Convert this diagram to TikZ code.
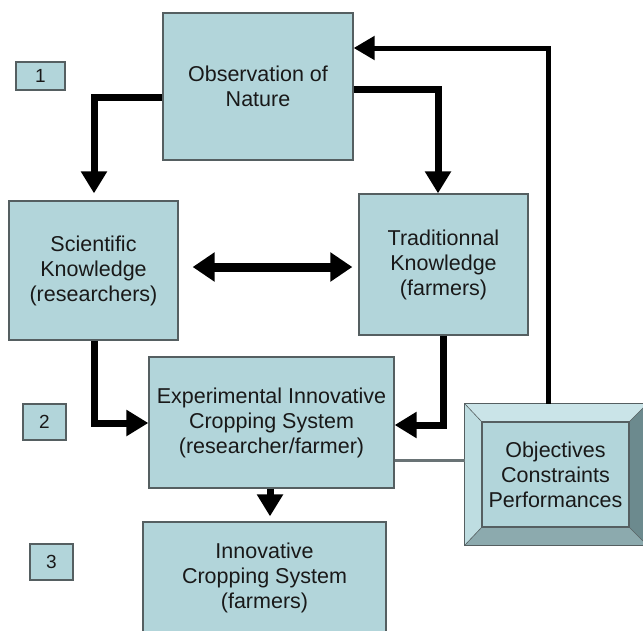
\documentclass[tikz,border=0pt]{standalone}
\usepackage{fontspec}
\setmainfont{Liberation Sans}
\usetikzlibrary{arrows.meta}
\definecolor{boxfill}{RGB}{178,213,218}
\definecolor{boxline}{RGB}{85,95,97}
\definecolor{txt}{RGB}{25,25,25}
\definecolor{bevtop}{RGB}{202,228,232}
\definecolor{bevleft}{RGB}{190,221,225}
\definecolor{bevright}{RGB}{108,138,142}
\definecolor{bevbot}{RGB}{140,170,174}
\definecolor{grayline}{RGB}{105,115,117}
\tikzset{
  mainbox/.style={draw=boxline, fill=boxfill, line width=1.3pt, inner sep=0pt,
    align=center, text=txt, font=\fontsize{21.5}{25}\selectfont},
  numbox/.style={draw=boxline, fill=boxfill, line width=1.3pt, inner sep=0pt,
    text=txt, font=\fontsize{19}{22}\selectfont},
  arr/.style={line width=7pt, draw=black, -{Triangle[length=22pt,width=25pt]}},
  fbarr/.style={line width=5pt, draw=black, -{Triangle[length=21pt,width=23pt]}},
  dblarr/.style={line width=9pt, draw=black,
    {Triangle[length=22pt,width=28pt]}-{Triangle[length=22pt,width=28pt]}},
}
\begin{document}
\begin{tikzpicture}[x=1pt,y=-1pt]
\useasboundingbox (0,0) rectangle (643,630);
\clip (0,0) rectangle (643,630);

% number boxes
\node[numbox, minimum width=49pt, minimum height=28pt] (n1) at (40.5,76) {1};
\node[numbox, minimum width=43pt, minimum height=36pt] (n2) at (44.5,422) {2};
\node[numbox, minimum width=43pt, minimum height=36pt] (n3) at (51.5,562) {3};

% main boxes
\node[mainbox, minimum width=190pt, minimum height=147pt] (obs) at (258,86.5)
  {Observation of\\Nature};
\node[mainbox, minimum width=169pt, minimum height=139pt] (sci) at (93.5,270.5)
  {Scientific\\Knowledge\\(researchers)};
\node[mainbox, minimum width=169pt, minimum height=141pt] (trad) at (443.5,264.5)
  {Traditionnal\\Knowledge\\(farmers)};
\node[mainbox, minimum width=245pt, minimum height=131pt] (exp) at (271.5,422.5)
  {Experimental Innovative\\Cropping System\\(researcher/farmer)};
\node[mainbox, minimum width=243pt, minimum height=112pt] (inno) at (264.5,578)
  {Innovative\\Cropping System\\(farmers)};

% objectives bevelled box
\node[minimum width=182pt, minimum height=141pt, inner sep=0pt] (obj) at (556,474.5) {};
\node[mainbox, minimum width=147pt, minimum height=105pt] (objin) at (555.5,474.5)
  {Objectives\\Constraints\\Performances};
\fill[bevtop] (obj.north west) -- (obj.north east) -- (objin.north east) -- (objin.north west) -- cycle;
\fill[bevleft] (obj.north west) -- (objin.north west) -- (objin.south west) -- (obj.south west) -- cycle;
\fill[bevright] (obj.north east) -- (obj.south east) -- (objin.south east) -- (objin.north east) -- cycle;
\fill[bevbot] (obj.south west) -- (objin.south west) -- (objin.south east) -- (obj.south east) -- cycle;
\draw[boxline, line width=0.6pt] (obj.north west) -- (objin.north west)
  (obj.north east) -- (objin.north east)
  (obj.south west) -- (objin.south west)
  (obj.south east) -- (objin.south east);
\draw[boxline, line width=1.3pt] (obj.north west) rectangle (obj.south east);
\draw[boxline, line width=1.3pt] (objin.north west) rectangle (objin.south east);

% connectors
\coordinate (c1) at (94,97);
\draw[arr, shorten >=7pt] (c1 -| obs.west) -- (c1) -- (c1 |- sci.north);
\coordinate (c2) at (438,89);
\draw[arr] (c2 -| obs.east) -- (c2) -- (c2 |- trad.north);
\coordinate (c3) at (270,267);
\draw[dblarr, shorten <=14pt, shorten >=6pt] (sci.east |- c3) -- (trad.west |- c3);
\coordinate (c4) at (94,423);
\draw[arr] (sci.south -| c4) -- (c4) -- (c4 -| exp.west);
\coordinate (c5) at (443,425);
\draw[arr] (trad.south -| c5) -- (c5) -- (c5 -| exp.east);
\coordinate (c6) at (270,500);
\draw[arr, shorten >=5pt] (exp.south -| c6) -- (c6 |- inno.north);
\coordinate (c7) at (430,460);
\draw[grayline, line width=3pt] (exp.east |- c7) -- (obj.west |- c7);
\coordinate (c8) at (548,48);
\draw[fbarr] (obj.north -| c8) -- (c8) -- (c8 -| obs.east);
\end{tikzpicture}
\end{document}
